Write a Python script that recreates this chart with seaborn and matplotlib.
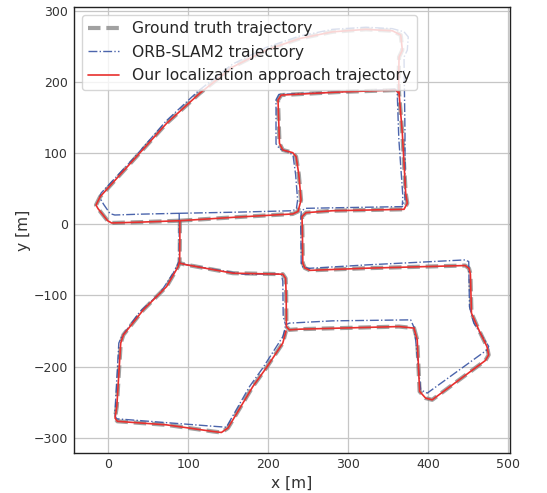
import matplotlib
matplotlib.use("Agg")
import matplotlib.pyplot as plt
import pandas as pd
import seaborn as sns

# ---------------- data ----------------
# Ground truth trajectory, three connected pieces
gt_loop_x = [89.3, 40, 4, -1, -13, -15.5, -12, -10.3, 31, 72.7, 114, 155.7, 197, 238.7, 280,
             321.8, 355, 365.4, 367.4, 363.3, 362.8, 363.3, 367.4, 371.6, 373.6, 369.5, 280,
             247, 242, 242.5, 243, 245.5, 252, 321.8, 446, 450.7, 452.5, 453.8, 463, 473.2,
             475.3, 471.2, 404.7, 396.5, 389, 386, 382, 363.3, 238.7, 226.3, 222.5, 222.2,
             221.5, 218, 155.7, 97.6, 89.3]
gt_loop_y = [5, 3, 1.8, 5, 22, 27, 35, 38.8, 90, 141.8, 184, 221.3, 244.8, 261, 270.5,
             274, 272, 266, 244.8, 235, 206, 184, 127.8, 43.5, 29.5, 21, 19,
             16.3, 10.7, -12.6, -54.8, -61.5, -64.8, -61.8, -58, -62, -70, -125, -148.5, -172,
             -183.6, -191.5, -246.8, -244.4, -235, -162.5, -146, -143.8, -147.5, -148.5, -144, -100,
             -76, -70.2, -68.8, -57, -54.8]
gt_south_x = [89.3, 89.3, 89, 87.2, 72.7, 43.6, 18.7, 15.4, 10.5, 8.3, 11.2, 72.7, 130.8,
              141.2, 149.4, 180.6, 197.3, 218, 222]
gt_south_y = [5, -22, -52.5, -59.5, -87.6, -120.4, -155.5, -167, -256, -272.5, -277, -282,
              -291.3, -292.7, -286.5, -228, -202, -167, -150]
gt_step_x = [89.3, 160, 230.4, 237, 240.8, 238, 234.6, 230.4, 218, 213.8, 212, 216, 290,
             359, 363.3]
gt_step_y = [5, 10, 14.5, 18, 34, 70, 95, 100.6, 104.4, 113.8, 174.6, 181.6, 186, 188.6, 184]

# ORB-SLAM2 trajectory
orb_loop_x = [88.5, 40, 8, 2, -6, -11, -9, 31, 72, 113, 155, 197, 238.7, 280, 321.8, 355,
              369.5, 374.8, 373.6, 369.5, 370.7, 370.7, 367.4, 300, 247, 241, 240.5, 241,
              243, 250, 321.8, 446, 450.4, 451.3, 456.7, 475.3, 474, 398.5, 390.3, 384, 382,
              377.8, 280, 226, 221.5, 218.5, 218, 216, 168, 97.6, 88.5]
orb_loop_y = [15.4, 14.2, 13, 15, 28, 38, 44, 92, 145, 188, 225, 248.5, 264.5, 274, 277, 275,
              270.5, 263.4, 244.8, 235, 127.8, 34, 24.8, 23.5, 22.4, 19, 0, -55,
              -60, -62, -57.2, -50.1, -52.5, -115.7, -139, -171.6, -176, -237.4, -232.7, -162.5, -145,
              -134.4, -135.8, -139, -141.5, -130, -80, -70, -70.2, -57, -54]
orb_south_x = [88.5, 88.5, 88.5, 81, 64.4, 39.5, 16.7, 13, 8.3, 8.3, 10.5, 135, 147.4,
               176.5, 193, 218, 220, 221.5]
orb_south_y = [15.4, -22, -52, -68.8, -97, -122.7, -157.9, -167, -262, -270, -273.5,
               -284.3, -285.3, -228, -202, -158, -150, -141.5]
orb_step_x = [88.5, 160, 230.4, 235, 236.5, 234, 231, 227, 214, 209.5, 209.5, 213, 290, 359,
              361, 363, 368, 367.4]
orb_step_y = [15.4, 17, 19, 22, 34, 70, 95, 101, 106, 113, 175, 182.5, 186, 189.6, 185,
              120, 40, 27]

# Our localization approach trajectory (coincides with the ground truth)
ours_loop_x, ours_loop_y = list(gt_loop_x), list(gt_loop_y)
ours_south_x, ours_south_y = list(gt_south_x), list(gt_south_y)
ours_step_x, ours_step_y = list(gt_step_x), list(gt_step_y)

labels = ["Ground truth trajectory", "ORB-SLAM2 trajectory",
          "Our localization approach trajectory"]
x_ticks = [0, 100, 200, 300, 400, 500]
y_ticks = [-300, -200, -100, 0, 100, 200, 300]


def frame(pieces):
    return pd.concat([pd.DataFrame({"x": px, "y": py, "seg": i})
                      for i, (px, py) in enumerate(pieces)], ignore_index=True)


gt_df = frame([(gt_loop_x, gt_loop_y), (gt_south_x, gt_south_y), (gt_step_x, gt_step_y)])
orb_df = frame([(orb_loop_x, orb_loop_y), (orb_south_x, orb_south_y), (orb_step_x, orb_step_y)])
ours_df = frame([(ours_loop_x, ours_loop_y), (ours_south_x, ours_south_y),
                 (ours_step_x, ours_step_y)])

# ---------------- style ----------------
sns.set_theme(style="whitegrid")
plt.rcParams.update({
    "font.family": ["DejaVu Sans"],
    "axes.edgecolor": "#222222",
    "axes.linewidth": 1.0,
    "axes.facecolor": "white",
    "grid.color": "#c6c6c6",
    "grid.linewidth": 0.9,
    "xtick.bottom": False,
    "ytick.left": False,
    "xtick.major.size": 0,
    "ytick.major.size": 0,
    "xtick.major.pad": 3.5,
    "ytick.major.pad": 4.5,
    "xtick.labelcolor": "#333333",
    "ytick.labelcolor": "#333333",
    "xtick.labelsize": 9,
    "ytick.labelsize": 9,
    "axes.labelsize": 11.2,
    "axes.labelcolor": "#333333",
})

fig = plt.figure(figsize=(5.47, 4.93), dpi=100)
ax = fig.add_axes([0.1353, 0.0805, 0.7971, 0.9047])

sns.lineplot(data=gt_df, x="x", y="y", units="seg", estimator=None, sort=False,
             color="#7a7a7a", alpha=0.7, linewidth=3.0, linestyle=(0, (3.0, 1.4)),
             label=labels[0], ax=ax)
sns.lineplot(data=orb_df, x="x", y="y", units="seg", estimator=None, sort=False,
             color="#2c4a9e", alpha=0.85, linewidth=1.0, linestyle="-.",
             label=labels[1], ax=ax)
sns.lineplot(data=ours_df, x="x", y="y", units="seg", estimator=None, sort=False,
             color="#e8302e", linewidth=1.2, linestyle="-",
             label=labels[2], ax=ax)

ax.set_xlim(-43, 502)
ax.set_ylim(-322, 305)
ax.set_xticks(x_ticks)
ax.set_yticks(y_ticks)
ax.set_xlabel("x [m]", labelpad=3)
ax.set_ylabel("y [m]", labelpad=2)
for s in ax.spines.values():
    s.set_visible(True)
    s.set_color("#222222")

handles, labs = ax.get_legend_handles_labels()
uniq = {}
for h, l in zip(handles, labs):
    uniq.setdefault(l, h)
ax.legend([uniq[l] for l in labels], labels, loc="upper left", fontsize=11.2,
          framealpha=0.8, edgecolor="#cccccc", fancybox=True, labelspacing=0.55)

fig.savefig("out.png", dpi=100)
